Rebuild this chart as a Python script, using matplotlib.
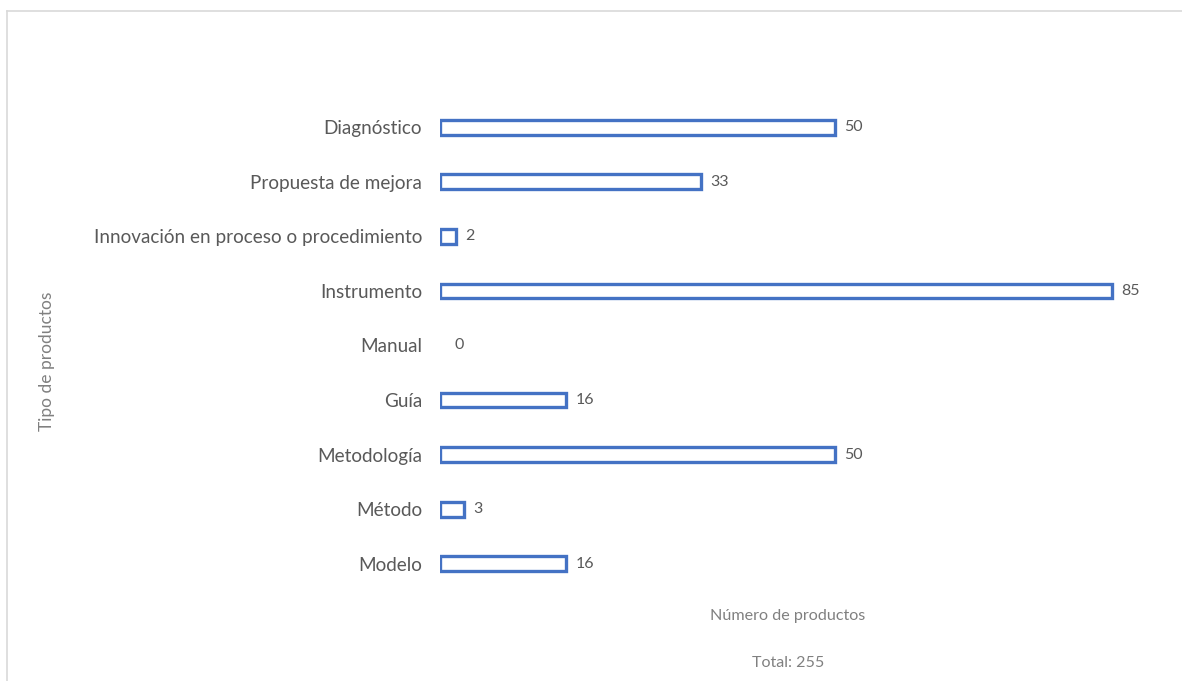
import matplotlib.pyplot as plt
from matplotlib.lines import Line2D

# data, top to bottom as in the chart
categorias = ["Diagnóstico", "Propuesta de mejora", "Innovación en proceso o procedimiento",
              "Instrumento", "Manual", "Guía", "Metodología", "Método", "Modelo"]
valores = [50, 33, 2, 85, 0, 16, 50, 3, 16]
total = 255

azul = "#4472C4"
gris = "#595959"

plt.rcParams['font.family'] = ['Lato', 'DejaVu Sans']

fig = plt.figure(figsize=(11.82, 6.81), dpi=100)
ax = fig.add_axes([440 / 1182, 1 - 591 / 681, 711 / 1182, 491 / 681])

pos = list(range(len(categorias)))
bars = ax.barh(pos, valores, height=0.27, color="white", edgecolor=azul, linewidth=2.4)
for b, v in zip(bars, valores):
    if v == 0:
        b.set_linewidth(0)  # Excel draws nothing for an empty bar
for p, v in zip(pos, valores):
    off = 1.2 if v > 0 else 1.8
    ax.text(v + off, p, str(v), va="center", ha="left", fontsize=11.5, color=gris)

ax.set_xlim(0, 90)
ax.set_ylim(len(categorias) - 0.5, -0.5)
ax.set_yticks(pos)
ax.set_yticklabels(categorias, fontsize=13.6, color=gris)
ax.tick_params(axis="y", length=0, pad=13)
ax.set_xticks([])
for s in ax.spines.values():
    s.set_visible(False)

# axis titles
fig.text(788 / 1182, 1 - 616 / 681, "Número de productos", ha="center", va="center",
         fontsize=11.6, color="#808080")
fig.text(788 / 1182, 1 - 663 / 681, "Total: " + str(total), ha="center", va="center",
         fontsize=11.6, color="#808080")
fig.text(47 / 1182, 1 - 361 / 681, "Tipo de productos", ha="center", va="center",
         rotation=90, fontsize=12.5, color="#808080")

# chart frame (only top and left visible)
fig.add_artist(Line2D([7 / 1182, 1], [1 - 11 / 681, 1 - 11 / 681], color="#d9d9d9", lw=1.2))
fig.add_artist(Line2D([7 / 1182, 7 / 1182], [0, 1 - 11 / 681], color="#d9d9d9", lw=1.2))

fig.savefig("out.png", dpi=100)
